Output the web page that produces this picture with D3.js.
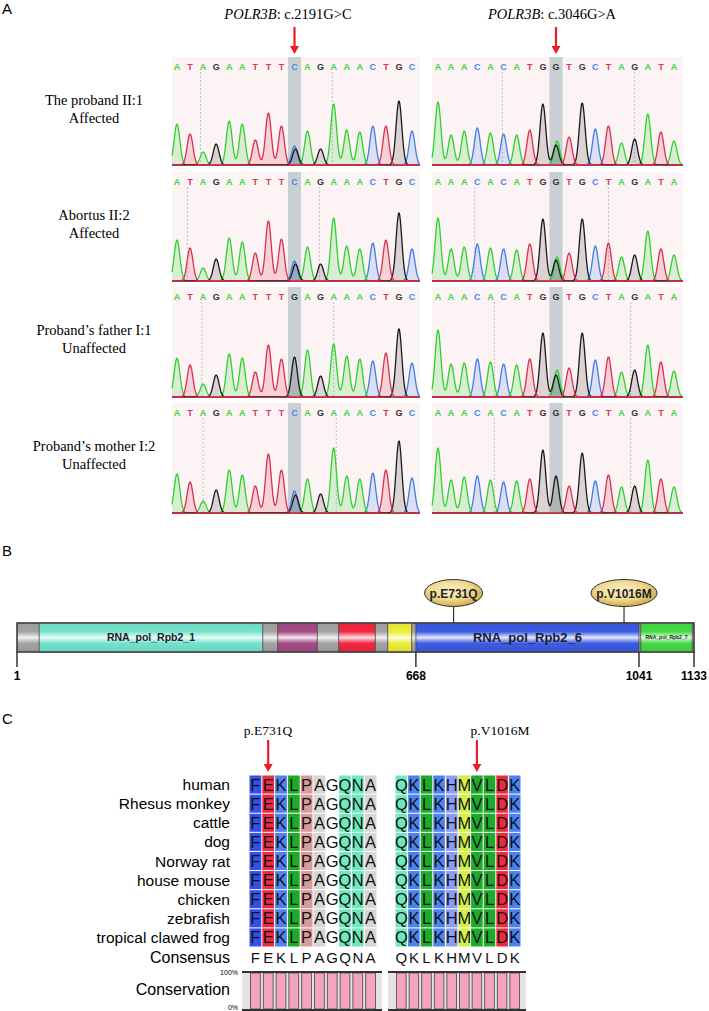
<!DOCTYPE html>
<html>
<head>
<meta charset="utf-8">
<script src="https://cdn.jsdelivr.net/npm/d3@7"></script>
<style>
  body { margin: 0; background: #fff; }
  svg { display: block; }
</style>
</head>
<body>
<script>
// ---------- data ----------
// panel A: base calls and peak heights (trace units) per sample row
const samples = ['The proband II:1', 'Abortus II:2', 'Proband\u2019s father I:1', 'Proband\u2019s mother I:2'];
const status = ['Affected', 'Affected', 'Unaffected', 'Unaffected'];
const variants = ['c.2191G>C', 'c.3046G>A'];

const callsLeft = ['ATAGAATTTCAGAAACTGC', 'ATAGAATTTCAGAAACTGC', 'ATAGAATTTGAGAAACTGC', 'ATAGAATTTCAGAAACTGC'];
const callsRight = ['AAACACATGGTGCTAGATA', 'AAACACATGGTGCTAGATA', 'AAACACATGGTGCTAGATA', 'AAACACATGGTGCTAGATA'];

const peaksLeft = [
  [41, 31, 13, 21, 44, 41, 25, 52, 39, 19, 34, 16, 61, 35, 33, 39, 39, 64, 34],
  [41, 33, 13, 22, 43, 39, 28, 60, 42, 20, 34, 17, 63, 35, 32, 38, 41, 68, 32],
  [39, 32, 13, 22, 43, 39, 25, 52, 38, 40, 47, 21, 53, 41, 38, 36, 44, 68, 34],
  [39, 31, 12, 23, 43, 38, 27, 59, 43, 22, 34, 19, 65, 37, 34, 40, 43, 72, 35]
];
const peaksRight = [
  [63, 30, 34, 37, 32, 31, 30, 35, 61, 20, 28, 62, 36, 39, 22, 26, 51, 33, 24],
  [63, 32, 34, 37, 33, 32, 31, 37, 62, 21, 28, 62, 35, 38, 24, 26, 50, 32, 26],
  [67, 33, 34, 38, 35, 33, 32, 38, 64, 22, 29, 64, 37, 40, 25, 27, 52, 35, 26],
  [65, 33, 36, 37, 33, 31, 32, 34, 63, 37, 27, 60, 32, 38, 26, 27, 53, 34, 26]
];
// heterozygous second peaks at the variant position (index 9)
const hetLeft = [{base: 'G', h: 16}, {base: 'G', h: 17}, null, {base: 'G', h: 18}];
const hetRight = [{base: 'A', h: 24}, {base: 'A', h: 24}, {base: 'A', h: 27}, null];
const variantIndex = 9;
// base-numbering tick marks (fractional base index)
const marksLeft = [[1.8, 11.9], [0.8, 10.9], [1.9, 12.0], [2.0, 12.2]];
const marksRight = [[4.9, 15.0], [2.8, 13.0], [4.3, 14.7], [4.3, 14.7]];

// panel B: POLR3B protein domains (amino acid positions)
const proteinLength = 1133;
const domainNames = ['RNA_pol_Rpb2_1', '', '', '', 'RNA_pol_Rpb2_6', 'RNA_pol_Rpb2_7'];
const domainStart = [38, 437, 539, 621, 668, 1044];
const domainEnd = [412, 503, 600, 661, 1041, 1130];
const axisTicks = [1, 668, 1041, 1133];
const mutations = ['p.E731Q', 'p.V1016M'];
const mutationPos = [731, 1016];

// panel C: alignment
const species = ['human', 'Rhesus monkey', 'cattle', 'dog', 'Norway rat', 'house mouse', 'chicken', 'zebrafish', 'tropical clawed frog'];
const seqBlock1 = 'FEKLPAGQNA';
const seqBlock2 = 'QKLKHMVLDK';
const conservation1 = [100, 100, 100, 100, 100, 100, 100, 100, 100, 100];
const conservation2 = [100, 100, 100, 100, 100, 100, 100, 100, 100, 100];
const markedCol = [1, 6];

// ---------- styles ----------
const serif = '"Liberation Serif", "Times New Roman", serif';
const sans = '"Liberation Sans", Arial, sans-serif';
const baseColor = {A: '#2fd12f', C: '#3f7fe6', G: '#1a1a1a', T: '#d9304f'};
const letterColor = {A: '#3dd63d', C: '#4a86ea', G: '#333', T: '#d83a58'};
const aaColor = {F: '#3650e6', E: '#ee2a3e', K: '#4d82ee', L: '#1faa2a', P: '#d99a9c', A: '#d6d6d6', G: '#ffffff',
                 Q: '#6fe8bd', N: '#6fe8bd', H: '#8c9cf0', M: '#d4ef45', V: '#1faa2a', D: '#ee2a3e'};
const domainColor = ['#74e4cc', '#a34c86', '#f2283f', '#eeee3a', '#3c5ce4', '#44dc44'];

const W = 709, H = 1011;
const svg = d3.select('body').append('svg').attr('width', W).attr('height', H);
const defs = svg.append('defs');

function arrow(g, x, y0, y1) {
  g.append('line').attr('x1', x).attr('x2', x).attr('y1', y0).attr('y2', y1 - 6)
    .attr('stroke', '#ec1c24').attr('stroke-width', 2.2);
  g.append('path').attr('d', `M${x - 4.5},${y1 - 8} L${x + 4.5},${y1 - 8} L${x},${y1} Z`).attr('fill', '#ec1c24');
}

// ================= Panel A =================
const pA = svg.append('g').attr('id', 'panelA');
pA.append('text').attr('x', 2).attr('y', 14).text('A')
  .attr('font-family', sans).attr('font-size', 15);

const panelX = [[172, 420], [432, 683]];
const idxX = [
  d3.scaleLinear().domain([0, 18]).range([177, 412]),
  d3.scaleLinear().domain([0, 18]).range([438, 674])
];
const titleX = [288, 552];
const letterY = [66, 181, 296, 412];
const baseY = [165, 281, 397, 513];

variants.forEach((v, k) => {
  const t = pA.append('text').attr('x', titleX[k]).attr('y', 19).attr('text-anchor', 'middle')
    .attr('font-family', serif).attr('font-size', 14.5);
  t.append('tspan').attr('font-style', 'italic').text('POLR3B');
  t.append('tspan').text(': ' + v);
  arrow(pA, idxX[k](variantIndex), 27, 54);
});

samples.forEach((s, r) => {
  pA.append('text').attr('x', 94).attr('y', letterY[r] + 39).attr('text-anchor', 'middle')
    .attr('font-family', serif).attr('font-size', 14.5).text(s);
  pA.append('text').attr('x', 94).attr('y', letterY[r] + 57).attr('text-anchor', 'middle')
    .attr('font-family', serif).attr('font-size', 14.5).text(status[r]);

  const y = d3.scaleLinear().domain([0, 100]).range([baseY[r], baseY[r] - 100]);

  [0, 1].forEach(k => {
    const xs = idxX[k];
    const calls = (k === 0 ? callsLeft : callsRight)[r].split('');
    const heights = (k === 0 ? peaksLeft : peaksRight)[r];
    const het = (k === 0 ? hetLeft : hetRight)[r];
    const marks = (k === 0 ? marksLeft : marksRight)[r];
    const [x0, x1] = panelX[k];
    const g = pA.append('g');

    g.append('rect').attr('x', x0).attr('y', letterY[r] - 9).attr('width', x1 - x0)
      .attr('height', baseY[r] - letterY[r] + 9).attr('fill', '#fcf3f4');
    const step = xs(1) - xs(0);
    g.append('rect').attr('x', xs(variantIndex) - step / 2).attr('y', letterY[r] - 9)
      .attr('width', step).attr('height', baseY[r] - letterY[r] + 9).attr('fill', '#c9cfd3');

    marks.forEach(m => {
      g.append('line').attr('x1', xs(m)).attr('x2', xs(m)).attr('y1', letterY[r] + 6).attr('y2', baseY[r])
        .attr('stroke', '#aaa').attr('stroke-width', 0.7).attr('stroke-dasharray', '2,2');
    });

    g.selectAll('text.base').data(calls).enter().append('text')
      .attr('x', (d, i) => xs(i)).attr('y', letterY[r] + 3.5).attr('text-anchor', 'middle')
      .attr('font-family', sans).attr('font-size', 9).attr('font-weight', 'bold')
      .attr('fill', d => letterColor[d]).text(d => d);

    const peaks = calls.map((b, i) => ({base: b, i: i, h: heights[i]}));
    if (het) peaks.push({base: het.base, i: variantIndex + 0.08, h: het.h});

    const lo = xs.invert(x0), hi = xs.invert(x1);
    const grid = d3.range(lo, hi, 0.04);
    const sigma = 0.22;
    ['C', 'A', 'G', 'T'].forEach(b => {
      const mine = peaks.filter(p => p.base === b);
      const pts = grid.map(t => ({t: t, v: d3.sum(mine, p => p.h * Math.exp(-((t - p.i) ** 2) / (2 * sigma * sigma)))}));
      g.append('path').datum(pts)
        .attr('d', d3.area().x(d => xs(d.t)).y0(baseY[r]).y1(d => y(d.v)))
        .attr('fill', baseColor[b]).attr('fill-opacity', b === 'G' ? 0.15 : 0.17);
      g.append('path').datum(pts)
        .attr('d', d3.line().x(d => xs(d.t)).y(d => y(d.v)))
        .attr('fill', 'none').attr('stroke', baseColor[b]).attr('stroke-width', 1.3);
    });
    g.append('line').attr('x1', x0).attr('x2', x1).attr('y1', baseY[r] + 0.5).attr('y2', baseY[r] + 0.5)
      .attr('stroke', '#d22a46').attr('stroke-width', 1.2);
  });
});

// ================= Panel B =================
const pB = svg.append('g').attr('id', 'panelB');
pB.append('text').attr('x', 2).attr('y', 556).text('B').attr('font-family', sans).attr('font-size', 15);

const px = d3.scaleLinear().domain([1, proteinLength]).range([17, 694]);
const barTop = 623, barH = 29;

function gradient(id, color) {
  const gr = defs.append('linearGradient').attr('id', id).attr('x1', 0).attr('x2', 0).attr('y1', 0).attr('y2', 1);
  const mix = t => d3.interpolateRgb(color, '#fff')(t);
  gr.append('stop').attr('offset', '0%').attr('stop-color', d3.color(color).darker(0.15));
  gr.append('stop').attr('offset', '30%').attr('stop-color', color);
  gr.append('stop').attr('offset', '50%').attr('stop-color', mix(0.85));
  gr.append('stop').attr('offset', '70%').attr('stop-color', color);
  gr.append('stop').attr('offset', '100%').attr('stop-color', d3.color(color).darker(0.25));
}
gradient('gGray', '#a4a4a4');
domainColor.forEach((c, i) => gradient('gDom' + i, c));

pB.append('rect').attr('x', px(1)).attr('y', barTop).attr('width', px(proteinLength) - px(1)).attr('height', barH)
  .attr('fill', 'url(#gGray)').attr('stroke', '#444').attr('stroke-width', 1.2);
pB.selectAll('rect.dom').data(domainStart).enter().append('rect')
  .attr('x', d => px(d)).attr('y', barTop).attr('width', (d, i) => px(domainEnd[i]) - px(d)).attr('height', barH)
  .attr('fill', (d, i) => `url(#gDom${i})`).attr('stroke', '#444').attr('stroke-width', 0.8);
pB.append('rect').attr('x', px(1)).attr('y', barTop).attr('width', px(proteinLength) - px(1)).attr('height', barH)
  .attr('fill', 'none').attr('stroke', '#444').attr('stroke-width', 1.2);

const domFont = [10.5, 0, 0, 0, 13, 5];
domainNames.forEach((n, i) => {
  if (!n) return;
  pB.append('text').attr('x', (px(domainStart[i]) + px(domainEnd[i])) / 2).attr('y', barTop + barH / 2 + domFont[i] * 0.36)
    .attr('text-anchor', 'middle').attr('font-family', sans).attr('font-weight', 'bold')
    .attr('font-size', domFont[i]).attr('fill', '#1a1a2a').text(n);
});

axisTicks.forEach(t => {
  pB.append('line').attr('x1', px(t)).attr('x2', px(t)).attr('y1', barTop + barH).attr('y2', barTop + barH + 15)
    .attr('stroke', '#333').attr('stroke-width', 1.5);
  pB.append('text').attr('x', px(t)).attr('y', 680).attr('text-anchor', 'middle')
    .attr('font-family', sans).attr('font-weight', 'bold').attr('font-size', 12).text(t);
});

const rg = defs.append('radialGradient').attr('id', 'gGold').attr('cx', '45%').attr('cy', '40%').attr('r', '65%');
rg.append('stop').attr('offset', '0%').attr('stop-color', '#fbf1d0');
rg.append('stop').attr('offset', '55%').attr('stop-color', '#f0d98e');
rg.append('stop').attr('offset', '100%').attr('stop-color', '#c9a040');
const ellR = [29, 33];
mutations.forEach((m, i) => {
  const x = px(mutationPos[i]);
  pB.append('line').attr('x1', x).attr('x2', x).attr('y1', 606).attr('y2', barTop)
    .attr('stroke', '#333').attr('stroke-width', 1.2);
  pB.append('ellipse').attr('cx', x).attr('cy', 593).attr('rx', ellR[i]).attr('ry', 13.5)
    .attr('fill', 'url(#gGold)').attr('stroke', '#333').attr('stroke-width', 1);
  pB.append('text').attr('x', x).attr('y', 597.5).attr('text-anchor', 'middle')
    .attr('font-family', sans).attr('font-weight', 'bold').attr('font-size', 12).attr('fill', '#222').text(m);
});

// ================= Panel C =================
const pC = svg.append('g').attr('id', 'panelC');
pC.append('text').attr('x', 2).attr('y', 724).text('C').attr('font-family', sans).attr('font-size', 15);

const blocks = [seqBlock1, seqBlock2];
const cons = [conservation1, conservation2];
const colX = [
  d3.scaleBand().domain(d3.range(10)).range([249, 377]),
  d3.scaleBand().domain(d3.range(10)).range([395, 521])
];
const rowY = d3.scaleBand().domain(d3.range(species.length)).range([775, 947]);
const labelX = [268, 500];

pC.selectAll('text.sp').data(species).enter().append('text')
  .attr('x', 230).attr('y', (d, i) => rowY(i) + rowY.bandwidth() / 2 + 5.5)
  .attr('text-anchor', 'end').attr('font-family', sans).attr('font-size', 15.5).text(d => d);

blocks.forEach((seq, b) => {
  const xs = colX[b];
  const aas = seq.split('');
  const x = xs(markedCol[b]) + xs.bandwidth() / 2;
  pC.append('text').attr('x', labelX[b]).attr('y', 735).attr('text-anchor', 'middle')
    .attr('font-family', serif).attr('font-size', 13.5).text(mutations[b]);
  arrow(pC, x, 740, 772);

  species.forEach((s, r) => {
    const g = pC.append('g');
    g.selectAll('rect').data(aas).enter().append('rect')
      .attr('x', (d, i) => xs(i) + 0.5).attr('y', rowY(r) + 0.5)
      .attr('width', xs.bandwidth() - 1).attr('height', rowY.bandwidth() - 1)
      .attr('fill', d => aaColor[d] || '#4d82ee');
    g.selectAll('text').data(aas).enter().append('text')
      .attr('x', (d, i) => xs(i) + xs.bandwidth() / 2).attr('y', rowY(r) + rowY.bandwidth() / 2 + 6)
      .attr('text-anchor', 'middle').attr('font-family', sans).attr('font-size', 16.5).attr('fill', '#111').text(d => d);
  });

  // consensus
  pC.selectAll(null).data(aas).enter().append('text')
    .attr('x', (d, i) => xs(i) + xs.bandwidth() / 2).attr('y', 963)
    .attr('text-anchor', 'middle').attr('font-family', sans).attr('font-size', 15).attr('fill', '#111').text(d => d);

  // conservation
  const cy = d3.scaleLinear().domain([0, 100]).range([1009, 973]);
  const bx0 = xs.range()[0] - 7, bx1 = xs.range()[1] + 5;
  pC.append('rect').attr('x', bx0).attr('y', cy(100)).attr('width', bx1 - bx0).attr('height', cy(0) - cy(100))
    .attr('fill', '#e3e3e3');
  pC.selectAll(null).data(cons[b]).enter().append('rect')
    .attr('x', (d, i) => xs(i) + 1.5).attr('y', d => cy(d)).attr('width', xs.bandwidth() - 3).attr('height', d => cy(0) - cy(d))
    .attr('fill', '#f5a3bf').attr('stroke', '#444').attr('stroke-width', 0.8);
  [cy(100) - 1, cy(0) + 1].forEach(yy => {
    pC.append('line').attr('x1', bx0).attr('x2', bx1).attr('y1', yy).attr('y2', yy)
      .attr('stroke', '#333').attr('stroke-width', 2);
  });
});

pC.append('text').attr('x', 230).attr('y', 963).attr('text-anchor', 'end')
  .attr('font-family', sans).attr('font-size', 16).text('Consensus');
pC.append('text').attr('x', 230).attr('y', 995).attr('text-anchor', 'end')
  .attr('font-family', sans).attr('font-size', 16).text('Conservation');
pC.append('text').attr('x', 238).attr('y', 975).attr('text-anchor', 'end')
  .attr('font-family', sans).attr('font-size', 7).text('100%');
pC.append('text').attr('x', 238).attr('y', 1010).attr('text-anchor', 'end')
  .attr('font-family', sans).attr('font-size', 7).text('0%');
</script>
</body>
</html>
